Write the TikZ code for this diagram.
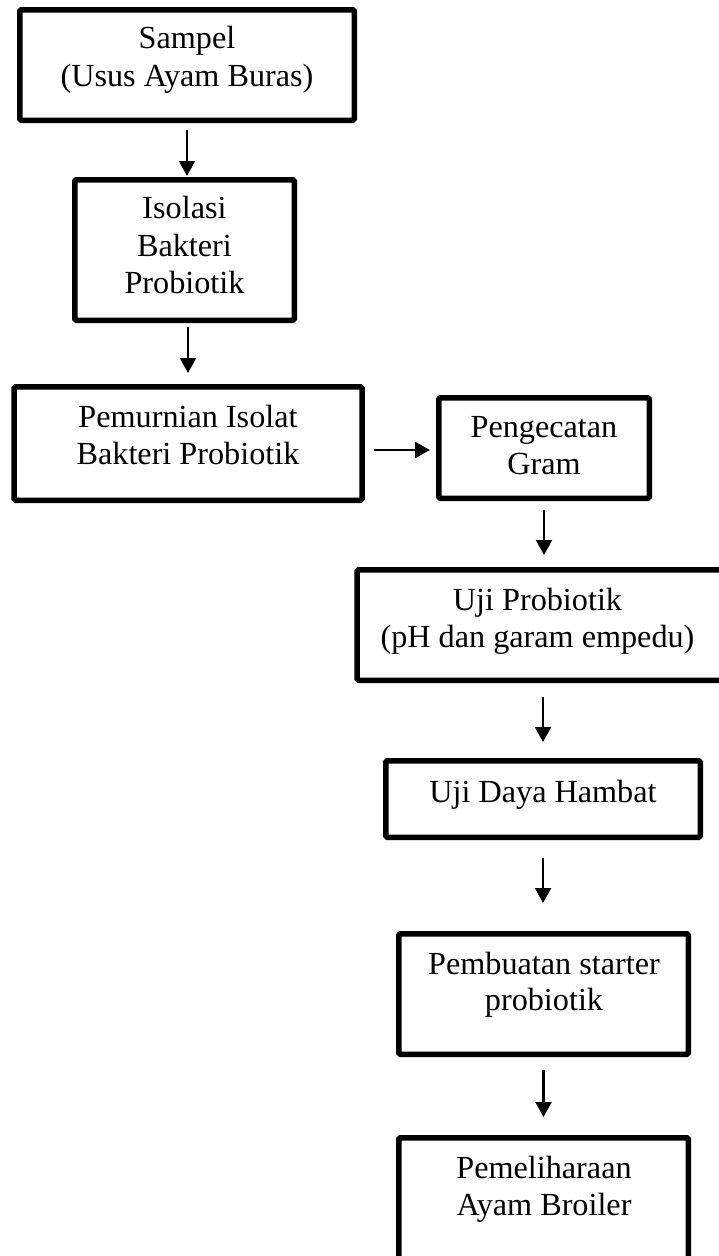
\documentclass[tikz,border=0pt]{standalone}
\usepackage{fontspec}
\setmainfont{Liberation Serif}
\usetikzlibrary{arrows.meta}
\tikzset{
  box/.style={draw, line width=5.5pt, rounded corners=1.5pt, inner sep=0pt},
  lbl/.style={font=\fontsize{32.2}{37}\selectfont, anchor=base, inner sep=0pt},
  arr/.style={line width=2.2pt, -{Triangle[width=16pt,length=15pt]}},
}
\begin{document}
\begin{tikzpicture}[x=1pt,y=-1pt]
\useasboundingbox (0,0) rectangle (719,1256);
\clip (0,0) rectangle (719,1256);
% boxes
\node[box, minimum width=334.5pt, minimum height=110.5pt] (b1) at (187,65) {};
\node[box, minimum width=219.5pt, minimum height=140.5pt] (b2) at (184.5,250) {};
\node[box, minimum width=348pt, minimum height=113.5pt] (b3) at (188,443.5) {};
\node[box, minimum width=210.5pt, minimum height=100.5pt] (b4) at (544,448) {};
\node[box, minimum width=365pt, minimum height=110.5pt] (b5) at (539.5,625) {};
\node[box, minimum width=314.5pt, minimum height=76.5pt] (b6) at (543,799) {};
\node[box, minimum width=289.5pt, minimum height=120.5pt] (b7) at (543.5,994) {};
\node[box, minimum width=289.5pt, minimum height=134.5pt] (b8) at (543.5,1205) {};
% texts
\node[lbl] (t1a) at (187,48.5) {Sampel};
\node[lbl] (t1b) at (187,86) {(Usus Ayam Buras)};
\node[lbl] (t2a) at (184.5,218) {Isolasi};
\node[lbl] (t2b) at (184.5,256) {Bakteri};
\node[lbl] (t2c) at (184.5,293) {Probiotik};
\node[lbl] (t3a) at (188,427) {Pemurnian Isolat};
\node[lbl] (t3b) at (188,464) {Bakteri Probiotik};
\node[lbl] (t4a) at (544,437) {Pengecatan};
\node[lbl] (t4b) at (544,474) {Gram};
\node[lbl] (t5a) at (537.5,610) {Uji Probiotik};
\node[lbl] (t5b) at (537.5,647) {(pH dan garam empedu)};
\node[lbl] (t6a) at (543,802) {Uji Daya Hambat};
\node[lbl] (t7a) at (544,974) {Pembuatan starter};
\node[lbl] (t7b) at (544,1010) {probiotik};
\node[lbl] (t8a) at (544,1178) {Pemeliharaan};
\node[lbl] (t8b) at (544,1215) {Ayam Broiler};
% arrows
\draw[arr, shorten <=7pt, shorten >=1pt] (b1.south) -- (b1.south |- b2.north);
\draw[arr, shorten <=4pt, shorten >=11pt] (b2.south -| b3.north) -- (b3.north);
\draw[arr, shorten <=9pt, shorten >=6pt] ([yshift=-6.5pt]b3.east) -- ([yshift=-6.5pt]b3.east -| b4.west);
\draw[arr, shorten <=9pt, shorten >=12pt] (b4.south) -- (b4.south |- b5.north);
\draw[arr, shorten <=14pt, shorten >=16pt] (b5.south -| b6.north) -- (b6.north);
\draw[arr, shorten <=18pt, shorten >=28pt] (b6.south) -- (b6.south |- b7.north);
\draw[arr, shorten <=13pt, shorten >=18pt] (b7.south) -- (b7.south |- b8.north);
\end{tikzpicture}
\end{document}
